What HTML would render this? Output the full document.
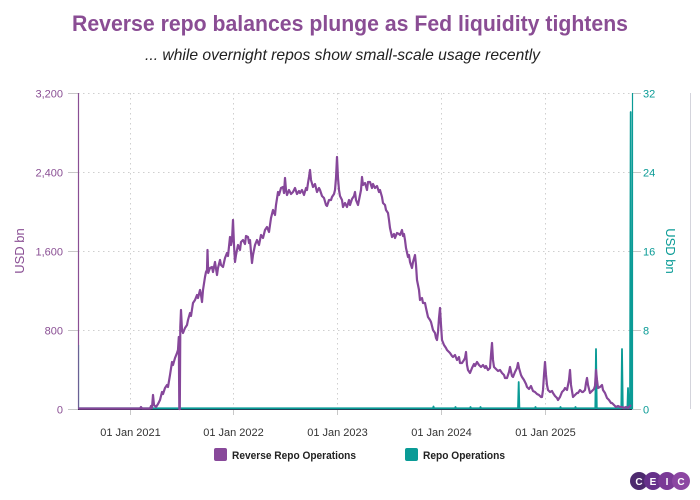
<!DOCTYPE html>
<html><head><meta charset="utf-8"><style>
html,body{margin:0;padding:0;background:#fff;}
svg{display:block;font-family:"Liberation Sans",sans-serif;}
</style></head><body>
<svg width="700" height="500" viewBox="0 0 700 500" xmlns="http://www.w3.org/2000/svg">
<rect width="700" height="500" fill="#fff"/>
<text x="72" y="31" font-size="22" font-weight="bold" fill="#8a4d94" textLength="556" lengthAdjust="spacingAndGlyphs">Reverse repo balances plunge as Fed liquidity tightens</text>
<text x="145" y="60" font-size="16" font-style="italic" fill="#222" textLength="395" lengthAdjust="spacingAndGlyphs">... while overnight repos show small-scale usage recently</text>

<!-- grid -->
<g stroke="#cfcfcf" stroke-width="1" stroke-dasharray="1.5,3.5" fill="none">
<line x1="78" y1="93.5" x2="632" y2="93.5"/>
<line x1="78" y1="172.5" x2="632" y2="172.5"/>
<line x1="78" y1="251.5" x2="632" y2="251.5"/>
<line x1="78" y1="330.5" x2="632" y2="330.5"/>
<line x1="130.5" y1="93" x2="130.5" y2="409"/>
<line x1="233.5" y1="93" x2="233.5" y2="409"/>
<line x1="337.5" y1="93" x2="337.5" y2="409"/>
<line x1="441.5" y1="93" x2="441.5" y2="409"/>
<line x1="545.5" y1="93" x2="545.5" y2="409"/>
</g>
<!-- ticks -->
<g stroke="#c8c8c8" stroke-width="1">
<line x1="68" y1="93.5" x2="78" y2="93.5"/>
<line x1="68" y1="172.5" x2="78" y2="172.5"/>
<line x1="68" y1="251.5" x2="78" y2="251.5"/>
<line x1="68" y1="330.5" x2="78" y2="330.5"/>
<line x1="68" y1="409.5" x2="78" y2="409.5"/>
<line x1="633" y1="93.5" x2="641" y2="93.5"/>
<line x1="633" y1="172.5" x2="641" y2="172.5"/>
<line x1="633" y1="251.5" x2="641" y2="251.5"/>
<line x1="633" y1="330.5" x2="641" y2="330.5"/>
<line x1="633" y1="409.5" x2="641" y2="409.5"/>
<line x1="130.5" y1="409" x2="130.5" y2="415"/>
<line x1="233.5" y1="409" x2="233.5" y2="415"/>
<line x1="337.5" y1="409" x2="337.5" y2="415"/>
<line x1="441.5" y1="409" x2="441.5" y2="415"/>
<line x1="545.5" y1="409" x2="545.5" y2="415"/>
</g>
<line x1="690.5" y1="93" x2="690.5" y2="409" stroke="#d4d4dc" stroke-width="1"/>

<!-- left labels -->
<g font-size="11" fill="#8a4f94" text-anchor="end">
<text x="63" y="97.5">3,200</text>
<text x="63" y="176.5">2,400</text>
<text x="63" y="255.5">1,600</text>
<text x="63" y="334.5">800</text>
<text x="63" y="413.5">0</text>
</g>
<g font-size="11" fill="#0a9b96">
<text x="643" y="97.5">32</text>
<text x="643" y="176.5">24</text>
<text x="643" y="255.5">16</text>
<text x="643" y="334.5">8</text>
<text x="643" y="413.5">0</text>
</g>
<text transform="translate(24,251) rotate(-90)" font-size="13" fill="#8a4f94" text-anchor="middle">USD bn</text>
<text transform="translate(666,251) rotate(90)" font-size="13" fill="#0a9b96" text-anchor="middle">USD bn</text>

<g font-size="11" fill="#333" text-anchor="middle">
<text x="130.5" y="436">01 Jan 2021</text>
<text x="233.5" y="436">01 Jan 2022</text>
<text x="337.5" y="436">01 Jan 2023</text>
<text x="441.5" y="436">01 Jan 2024</text>
<text x="545.5" y="436">01 Jan 2025</text>
</g>

<!-- axes -->
<line x1="78.5" y1="93" x2="78.5" y2="409.5" stroke="#8a4f94" stroke-width="1.2"/>
<line x1="78" y1="409.5" x2="632" y2="409.5" stroke="#2b2040" stroke-width="1"/>

<!-- teal series -->
<line x1="78.8" y1="345" x2="78.8" y2="409" stroke="#0a9b96" stroke-width="1" opacity="0.35"/>
<polyline fill="none" stroke="#0a9b96" stroke-width="1.8" stroke-linejoin="round" points="
78.5,408.3 433,408.3 433.5,406.5 434,408.3 455,408.3 455.5,407 456,408.3 470,408.3 470.5,407 471,408.3 480,408.3 480.5,407 481,408.3
518,408.3 518.7,382 519.4,408.3 535,408.3 535.5,407 536,408.3 560,408.3 560.5,407 561,408.3 575,408.3 575.5,407 576,408.3
595.3,408.3 596,349 596.8,408.3 621.3,408.3 622,349 622.8,408.3 627.4,408.3 628,388 628.7,408.3 630,408.3 630.7,112 631.4,408.3 632,408.3"/>

<!-- purple series -->
<polyline fill="none" stroke="#86479a" stroke-width="2.2" stroke-linejoin="round" points="
78.5,408.5 140,408.5 141,407 142,408.5 150,408.5 151,406 152,408 153,395 154,405 156,407 158,404 160,400 162,392 163,394 165,388 167,385 168,387 170,375 172,362 173,365 175,358 177,353 178,350 178.8,337 179.3,409 179.8,409 180.3,327 181,310 182,330 183,333 185,328 187,325 188,320 190,313 191,316 193,303 195,300 197,295 198,298 200,290 201,295 202,302 203,290 205,277 206,272 207,270 207.5,250 208.2,273 210,268 212,267 213,272 215,262 217,275 218,268 220,260 221,265 223,267 225,258 227,253 228,256 230,237 231,245 232,240 233,220 234,245 235,262 236,255 238,245 240,250 241,242 243,240 245,244 246,236 248,237 249,243 250,240 251,252 252,263 253,255 255,245 257,240 259,245 261,235 263,238 265,230 267,227 269,232 271,218 273,210 275,215 276,205 278,192 279,195 281,188 283,187 284,193 285,178 286,190 287,195 289,190 291,194 293,192 295,188 297,194 299,191 300,193 302,190 304,195 306,188 307,190 308,183 309,177 310,170 311,180 313,187 315,184 317,192 319,188 320,190 322,196 324,198 326,205 327,206 329,200 331,200 332,197 334,194 335,190 336,178 337,157 338,178 339,190 340,196 342,200 343,207 345,203 347,207 349,200 350,205 352,199 354,196 355,192 356,200 358,205 360,195 361,190 362,177 363,185 365,183 367,190 368,182 370,182 372,188 373,184 375,188 377,186 379,192 380,190 382,197 383,203 385,205 386,210 388,213 389,220 390,228 392,237 394,234 395,238 397,233 399,234 400,235 402,230 403,236 404,234 405,240 406,248 408,257 409,255 410,262 412,268 413,262 415,255 416,265 417,280 419,290 420,300 422,298 423,303 425,303 426,308 428,317 430,320 431,322 433,330 435,333 436,338 437,340 438,332 439,318 440,308 441,325 442,340 444,345 446,348 447,350 449,352 450,353 452,356 453,357 455,355 457,360 459,357 460,363 462,363 464,360 465,358 466,352 467,365 468,370 470,373 472,368 474,364 475,366 477,362 479,365 481,367 483,365 485,368 486,366 488,370 490,368 491,355 492,343 493,360 494,367 496,369 498,371 500,370 502,373 504,375 505,378 507,378 509,372 510,367 512,376 513,377 515,372 517,368 518,363 519,368 521,375 522,377 524,380 526,384 527,387 529,389 531,386 533,391 535,392 537,394 539,395 541,397 542,397 543,390 544,375 545,362 546,375 547,385 548,390 550,392 552,391 553,393 555,396 557,398 558,400 560,397 562,392 564,390 565,388 567,390 569,380 570,370 571,385 573,397 575,395 577,393 578,393 580,390 582,392 583,392 585,390 586,383 587,378 588,385 590,393 592,391 594,389 595,386 596,370 597,380 598,388 600,387 602,385 603,390 605,393 607,398 609,400 611,403 612,403 614,405 616,407 618,406 620,407 622,407 624,408 626,407 628,408 630,406 631,405"/>

<!-- right axis -->
<line x1="632.5" y1="93" x2="632.5" y2="409.5" stroke="#0a9b96" stroke-width="1.2"/>

<!-- legend -->
<rect x="214" y="448" width="13" height="13" rx="2" fill="#88499a"/>
<text x="232" y="459" font-size="11" font-weight="bold" fill="#222" textLength="124" lengthAdjust="spacingAndGlyphs">Reverse Repo Operations</text>
<rect x="405" y="448" width="13" height="13" rx="2" fill="#0a9b96"/>
<text x="423" y="459" font-size="11" font-weight="bold" fill="#222" textLength="82" lengthAdjust="spacingAndGlyphs">Repo Operations</text>

<!-- CEIC logo -->
<g>
<circle cx="639" cy="481" r="9" fill="#4d2a6e"/>
<circle cx="653" cy="481" r="9" fill="#66318a"/>
<circle cx="667" cy="481" r="9" fill="#7a3a96"/>
<circle cx="681" cy="481" r="9" fill="#8c46a2"/>
<g font-size="10" font-weight="bold" fill="#fff" text-anchor="middle">
<text x="639" y="485">C</text>
<text x="653" y="485">E</text>
<text x="667" y="485">I</text>
<text x="681" y="485">C</text>
</g>
</g>
</svg>
</body></html>
